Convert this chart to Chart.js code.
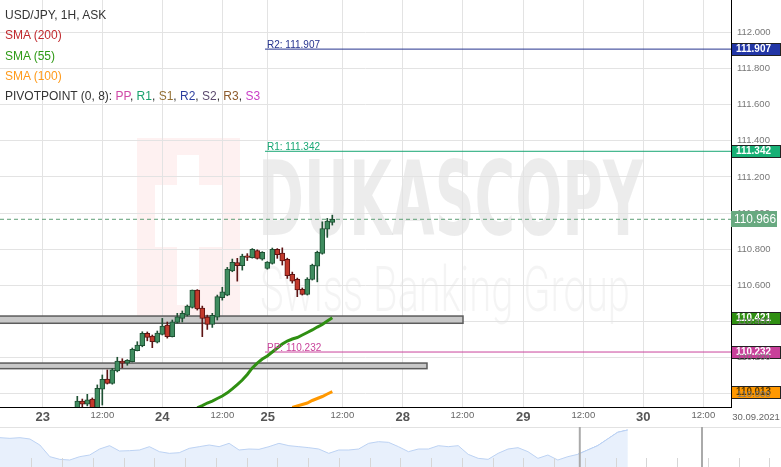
<!DOCTYPE html>
<html><head><meta charset="utf-8">
<script src="https://cdn.jsdelivr.net/npm/chart.js@4.4.1/dist/chart.umd.min.js"></script>
<style>
body{margin:0;background:#fff;width:781px;height:467px;overflow:hidden;position:relative;font-family:'Liberation Sans',Arial,sans-serif}
#main{position:absolute;left:0;top:0}
#nav{position:absolute;left:0;top:425px}
#legend{position:absolute;left:5px;top:5px;font-size:12px;line-height:20.3px;color:#333;white-space:nowrap}
</style></head><body>
<canvas id="main" width="781" height="425"></canvas>
<canvas id="nav" width="781" height="42"></canvas>
<div id="legend">
<div>USD/JPY, 1H, ASK</div>
<div style="color:#c0282d">SMA (200)</div>
<div style="color:#2f9a16">SMA (55)</div>
<div style="color:#ff9a1a">SMA (100)</div>
<div>PIVOTPOINT (0, 8): <span style="color:#d04aa7">PP</span>, <span style="color:#1aa36e">R1</span>, <span style="color:#937034">S1</span>, <span style="color:#2c3e9e">R2</span>, <span style="color:#5c4a6e">S2</span>, <span style="color:#8d5a2b">R3</span>, <span style="color:#c93fc6">S3</span></div>
</div>
<script>
// ---------- data ----------
const xTickPos    = [8.54, 20.46, 32.46, 44.46, 53.54, 68.46, 80.54, 92.46, 104.66, 116.66, 128.66, 140.66];
const xTickLabels = ['23','12:00','24','12:00','25','12:00','28','12:00','29','12:00','30','12:00'];
const lastDateLabel = '30.09.2021';
const yTicks = [110.0,110.2,110.4,110.6,110.8,111.0,111.2,111.4,111.6,111.8,112.0];

const candleStart = 15.46; // hour index of first visible candle
const opens  = [109.915,109.961,109.943,109.972,109.920,110.026,110.083,110.059,110.127,110.182,110.171,110.178,110.239,110.267,110.335,110.320,110.286,110.330,110.381,110.317,110.396,110.418,110.436,110.478,110.575,110.475,110.425,110.385,110.425,110.532,110.547,110.681,110.727,110.710,110.764,110.754,110.793,110.746,110.694,110.722,110.800,110.779,110.744,110.661,110.634,110.578,110.551,110.633,110.707,110.777,110.912,110.949];
const highs  = [109.987,109.972,109.998,109.978,110.050,110.105,110.133,110.142,110.203,110.195,110.190,110.254,110.289,110.344,110.343,110.326,110.348,110.418,110.398,110.409,110.446,110.459,110.492,110.575,110.577,110.486,110.436,110.446,110.547,110.590,110.700,110.746,110.750,110.773,110.776,110.804,110.797,110.787,110.732,110.807,110.804,110.808,110.751,110.674,110.641,110.586,110.643,110.718,110.790,110.952,110.971,110.989];
const lows   = [109.905,109.925,109.934,109.910,109.910,109.939,110.055,110.054,110.122,110.145,110.159,110.177,110.238,110.261,110.294,110.256,110.282,110.326,110.309,110.315,110.392,110.398,110.431,110.475,110.464,110.317,110.357,110.368,110.409,110.519,110.543,110.676,110.624,110.685,110.738,110.751,110.746,110.740,110.690,110.718,110.750,110.713,110.639,110.613,110.538,110.547,110.547,110.630,110.620,110.773,110.866,110.934];
const closes = [109.961,109.943,109.967,109.917,110.031,110.081,110.059,110.133,110.182,110.171,110.186,110.247,110.271,110.335,110.313,110.289,110.337,110.376,110.317,110.399,110.427,110.446,110.486,110.575,110.470,110.418,110.384,110.435,110.538,110.565,110.691,110.728,110.709,110.762,110.755,110.800,110.749,110.783,110.729,110.800,110.770,110.736,110.654,110.624,110.575,110.551,110.635,110.713,110.783,110.915,110.956,110.966];

const sma55From = 24;
const sma55  = [109.923,109.936,109.950,109.961,109.975,109.989,110.006,110.028,110.052,110.077,110.108,110.144,110.171,110.193,110.210,110.232,110.254,110.276,110.293,110.304,110.312,110.326,110.340,110.354,110.370,110.384,110.403,110.421];
const sma100From = 43;
const sma100 = [109.925,109.934,109.942,109.950,109.964,109.975,109.986,110.000,110.013];

const pivotNames  = ['R2','R1','PP'];
const pivotValues = [111.907,111.342,110.232];
const pivotFromX  = 53;

const zoneTops    = [110.431,110.171];
const zoneBottoms = [110.391,110.140];
const zoneEndX    = [92.6,85.4];

// navigator (overview) heights
const navValues = [88,86,88,84,66,31,23,21,31,36,54,64,48,49,51,61,46,41,43,56,61,66,61,71,51,54,53,61,71,64,61,58,54,41,51,51,54,71,76,74,61,46,54,54,64,61,64,38,26,23,41,54,58,46,26,36,21,31,38,51,64,84,104,111];
const navWindowFrom = 58;

// ---------- styles ----------
const FONT='"Liberation Sans",Arial,sans-serif';
const UP_FILL='#3f8c5f', UP_LINE='#1f5134', DN_FILL='#c23a2c', DN_LINE='#5e1414';
const pivotColors = ['#26348f','#17a673','#c9439b'];
const pivotBoxColors = ['#2236a6','#17b075','#c8409a'];
const lastClose = closes[closes.length-1];
const up = i => closes[i] >= opens[i];
const isSmall = i => xTickLabels[i] && xTickLabels[i].includes(':');

const watermark = {
  id:'watermark',
  beforeDraw(chart){
    const c = chart.ctx; c.save();
    // faint logo
    c.fillStyle='rgba(235,60,60,0.07)';
    c.fillRect(137,138,103,178);
    c.fillStyle='#fff';
    c.fillRect(177,155,22,150);
    c.fillRect(155,185,67,62);
    // DUKASCOPY
    c.fillStyle='rgba(0,0,0,0.075)';
    c.font='bold 100px "Liberation Sans Narrow","DejaVu Sans Condensed","Liberation Sans",sans-serif';
    let m=c.measureText('DUKASCOPY');
    c.save(); c.translate(258,235); c.scale(385/m.width, 78/m.actualBoundingBoxAscent); c.fillText('DUKASCOPY',0,0); c.restore();
    c.fillStyle='rgba(0,0,0,0.045)';
    c.font='300 100px Roboto,"Liberation Sans",sans-serif';
    m=c.measureText('Swiss Banking Group');
    c.save(); c.translate(260,311); c.scale(370/m.width, 46/c.measureText('S').actualBoundingBoxAscent); c.fillText('Swiss Banking Group',0,0); c.restore();
    c.restore();
    // value boxes under tick labels
    const y=chart.scales.y, r=chart.chartArea.right;
    const box=(v,col,txtCol)=>{const py=Math.round(y.getPixelForValue(v));
      c.save(); c.fillStyle=col; c.fillRect(r,py-6,49,12); c.strokeStyle='#222'; c.lineWidth=1; c.strokeRect(r+0.5,py-5.5,49,12);
      c.fillStyle=txtCol; c.font='bold 10px '+FONT; c.textBaseline='middle'; c.fillText(v.toFixed(3),r+5,py+0.5,35); c.restore();};
    pivotValues.forEach((v,i)=>box(v,pivotBoxColors[i],'#fff'));
    box(sma55[sma55.length-1],'#2f8f12','#fff');
    box(sma100[sma100.length-1],'#ff9800','#5b3b00');
  },
  beforeDatasetsDraw(chart){
    const c=chart.ctx, x=chart.scales.x, y=chart.scales.y; c.save();
    zoneTops.forEach((t,i)=>{
      const x0=x.getPixelForValue(0), x1=x.getPixelForValue(zoneEndX[i]);
      const y0=y.getPixelForValue(t), y1=y.getPixelForValue(zoneBottoms[i]);
      c.fillStyle='#c8c8c8'; c.fillRect(x0,y0,x1-x0,y1-y0);
      c.strokeStyle='#5c5c5c'; c.lineWidth=1.5; c.strokeRect(x0-1,y0,x1-x0+1,y1-y0);
    });
    c.restore();
  },
  afterDraw(chart){
    const c=chart.ctx, x=chart.scales.x, y=chart.scales.y, r=chart.chartArea.right; c.save();
    c.font='10px '+FONT; c.textBaseline='alphabetic';
    pivotValues.forEach((v,i)=>{ c.fillStyle=pivotColors[i];
      c.fillText(pivotNames[i]+': '+v.toFixed(3), x.getPixelForValue(pivotFromX)+2, y.getPixelForValue(v)-1.5); });
    // current price box
    const py=Math.round(y.getPixelForValue(lastClose));
    c.fillStyle='#68a980'; c.fillRect(r,py-8,46,16);
    c.fillStyle='#fff'; c.font='13px '+FONT; c.textBaseline='middle'; c.fillText(lastClose.toFixed(3),r+3,py+0.5,42);
    // last date label
    c.fillStyle='#666'; c.font='9.5px '+FONT; c.textAlign='center';
    c.fillText(lastDateLabel, r+25, x.top+10);
    c.restore();
  }
};

new Chart(document.getElementById('main'), {
  type:'bar',
  data:{datasets:[
    {type:'line', data:sma55.map((v,i)=>({x:candleStart+sma55From+i,y:v})), borderColor:'#2f8f12', borderWidth:3, pointRadius:0, order:0},
    {type:'line', data:sma100.map((v,i)=>({x:candleStart+sma100From+i,y:v})), borderColor:'#ff9800', borderWidth:3, pointRadius:0, order:0},
    {data:opens.map((o,i)=>({x:candleStart+i,y:[Math.min(o,closes[i]),Math.max(o,closes[i])]})),
     backgroundColor:opens.map((o,i)=>up(i)?UP_FILL:DN_FILL), borderColor:opens.map((o,i)=>up(i)?UP_LINE:DN_LINE),
     borderWidth:1, borderSkipped:false, barThickness:5, grouped:false, order:1},
    {data:lows.map((l,i)=>({x:candleStart+i,y:[l,highs[i]]})),
     backgroundColor:lows.map((l,i)=>up(i)?UP_LINE:DN_LINE), barThickness:1, grouped:false, order:2},
    ...pivotValues.map((v,i)=>({type:'line', data:[{x:pivotFromX,y:v},{x:146.2,y:v}], borderColor:pivotColors[i], borderWidth:1, pointRadius:0, order:3})),
    {type:'line', data:[{x:0,y:lastClose},{x:146.2,y:lastClose}], borderColor:'#5e9e76', borderWidth:1, borderDash:[4,3], pointRadius:0, order:3}
  ]},
  options:{
    responsive:false, animation:false, devicePixelRatio:1,
    layout:{padding:0},
    plugins:{legend:{display:false}, tooltip:{enabled:false}},
    scales:{
      x:{type:'linear', min:0, max:146.2, offset:false, position:'bottom',
        grid:{color:'#e3e3e3', offset:false, drawTicks:false},
        border:{color:'#000', width:1},
        afterBuildTicks:s=>{s.ticks=xTickPos.map(v=>({value:v}));},
        afterFit:s=>{s.height=18; s.paddingLeft=0; s.paddingRight=0;},
        ticks:{autoSkip:false, maxRotation:0, padding:3,
          callback:(v,i)=>xTickLabels[i],
          font:ctx=>isSmall(ctx.index)?{size:9.5,family:FONT}:{size:13,weight:'bold',family:FONT},
          color:ctx=>isSmall(ctx.index)?'#666':'#555'}},
      y:{position:'right', min:109.928, max:112.1786,
        grid:{color:'#e3e3e3', drawTicks:false},
        border:{color:'#000', width:1},
        afterBuildTicks:s=>{s.ticks=yTicks.map(v=>({value:v}));},
        afterFit:s=>{s.width=50; s.paddingTop=0; s.paddingBottom=0;},
        ticks:{padding:6, color:'#777', font:{size:9.5,family:FONT}, callback:v=>Number(v).toFixed(3)}}
    }
  },
  plugins:[watermark]
});

// ---------- navigator ----------
const navDeco = {
  id:'navDeco',
  afterDraw(chart){
    const c=chart.ctx, x=chart.scales.x; c.save();
    c.strokeStyle='#e2e2e2'; c.lineWidth=1;
    c.beginPath(); c.moveTo(0,2.5); c.lineTo(781,2.5); c.stroke();
    c.strokeStyle='#d6d6d6';
    for(let px=31.4; px<781; px+=30.75){ c.beginPath(); c.moveTo(Math.round(px)+0.5,33); c.lineTo(Math.round(px)+0.5,42); c.stroke(); }
    c.strokeStyle='#aaa'; c.lineWidth=2;
    [x.getPixelForValue(navWindowFrom)+2, 702].forEach(px=>{c.beginPath(); c.moveTo(px,2); c.lineTo(px,42); c.stroke();});
    c.restore();
  }
};
new Chart(document.getElementById('nav'), {
  type:'line',
  data:{datasets:[
    {data:navValues.map((v,i)=>({x:i,y:v})), borderColor:'#bcd2f3', borderWidth:1, backgroundColor:'#e8f0fc', fill:'start', pointRadius:0},
    {data:navValues.slice(navWindowFrom).map((v,i)=>({x:navWindowFrom+i,y:v})), borderColor:'#92b6ee', borderWidth:1, backgroundColor:'#d9e6fb', fill:'start', pointRadius:0}
  ]},
  options:{responsive:false, animation:false, devicePixelRatio:1, layout:{padding:0},
    plugins:{legend:{display:false}, tooltip:{enabled:false}},
    scales:{x:{type:'linear', display:false, min:0, max:78.4}, y:{display:false, min:0, max:126}}},
  plugins:[navDeco]
});
</script>
</body></html>
